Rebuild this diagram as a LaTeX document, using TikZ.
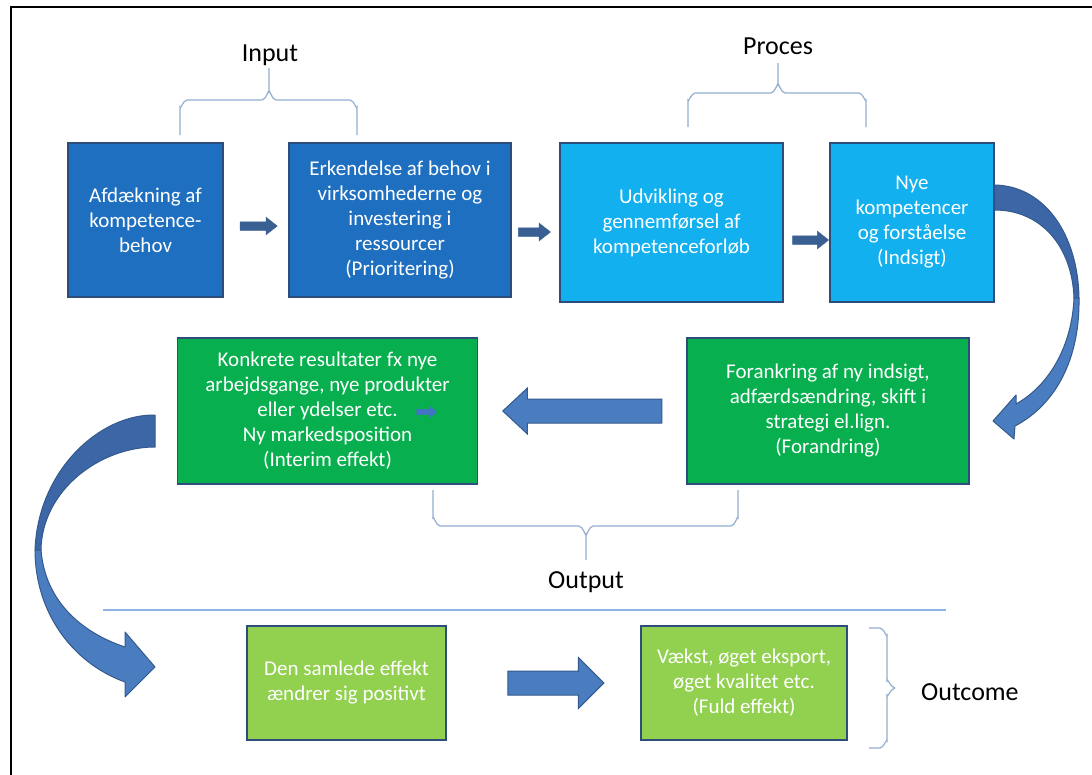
\documentclass[tikz,border=0pt]{standalone}
\usepackage{fontspec}
\setmainfont{Carlito}
\usetikzlibrary{shapes.arrows,calc}
\definecolor{dblue}{HTML}{1E6FBF}
\definecolor{lblue}{HTML}{12B0EE}
\definecolor{dgreen}{HTML}{08AF4E}
\definecolor{lgreen}{HTML}{92D050}
\definecolor{bordc}{HTML}{2E4D7B}
\definecolor{arrowc}{HTML}{3A5F92}
\definecolor{bigfill}{HTML}{4A7DC0}
\definecolor{bigdark}{HTML}{3C66A6}
\definecolor{bigline}{HTML}{34598C}
\definecolor{bracec}{HTML}{93AFCF}
\definecolor{sepc}{HTML}{8DB3E2}
\definecolor{tinyc}{HTML}{4472C4}
\begin{document}
\begin{tikzpicture}[x=1pt,y=-1pt,
  box/.style={draw=bordc,line width=1.5pt,inner sep=2pt,align=center,text=white,
    font=\fontsize{21}{25}\selectfont},
  lbl/.style={inner sep=0pt,text=black,font=\fontsize{26}{30}\selectfont},
  smallarrow/.style={single arrow,fill=arrowc,draw=arrowc,line width=0.5pt,
    inner xsep=0pt,inner ysep=4pt,single arrow head extend=4.5pt,
    single arrow tip angle=76,minimum height=#1},
  bigarrow/.style={single arrow,fill=bigfill,draw=bigline,line width=1pt,
    inner xsep=0pt,inner ysep=11.5pt,minimum height=#1},
  brace/.style={draw=bracec,line width=1.2pt},
  curved/.style={draw=bigline,line width=1pt,line join=round}
]
\useasboundingbox (0,0) rectangle (1092,774);
\fill[white] (0,0) rectangle (1092,774);
\draw[line width=2.5pt] (11,780) -- (11,7) -- (1100,7);

% boxes
\node[box,fill=dblue,minimum width=155pt,minimum height=154pt] (b1) at (145.5,220)
  {Afdækning af\\kompetence-\\behov};
\node[box,fill=dblue,minimum width=222pt,minimum height=154pt] (b2) at (400,220)
  {Erkendelse af behov i\\virksomhederne og\\investering i\\ressourcer\\(Prioritering)};
\node[box,fill=lblue,minimum width=223pt,minimum height=159pt] (b3) at (671.5,222.5)
  {Udvikling og\\gennemførsel af\\kompetenceforløb};
\node[box,fill=lblue,minimum width=164pt,minimum height=159pt] (b4) at (912,222.5)
  {Nye\\kompetencer\\og forståelse\\(Indsigt)};
\node[box,fill=dgreen,minimum width=300pt,minimum height=146pt] (b5) at (327.5,411)
  {Konkrete resultater fx nye\\arbejdsgange, nye produkter\\eller ydelser etc.\\Ny markedsposition\\(Interim effekt)};
\node[box,fill=dgreen,minimum width=282pt,minimum height=146pt] (b6) at (828,411)
  {Forankring af ny indsigt,\\adfærdsændring, skift i\\strategi el.lign.\\(Forandring)};
\node[box,fill=lgreen,minimum width=199pt,minimum height=114pt] (b7) at (346.5,683)
  {Den samlede effekt\\ændrer sig positivt};
\node[box,fill=lgreen,minimum width=206pt,minimum height=114pt] (b8) at (744,683)
  {Vækst, øget eksport,\\øget kvalitet etc.\\(Fuld effekt)};

% tiny arrow inside b5
\node[single arrow,fill=tinyc,draw=tinyc,line width=0.3pt,inner xsep=0pt,inner ysep=2.5pt,
  single arrow head extend=3pt,single arrow tip angle=80,minimum height=20pt] (tiny) at (425,412) {};

% small connectors
\path ([yshift=-6pt]b1.east) -- ([yshift=-6pt]b2.west) node[midway,smallarrow=37pt] (a12) {};
\path ([yshift=-12pt]b2.east) -- ([yshift=-9.5pt]b3.west) node[pos=0.42,smallarrow=32pt] (a23) {};
\path ([yshift=-17.5pt]b3.east) -- ([yshift=-17.5pt]b4.west) node[pos=0.53,smallarrow=36pt] (a34) {};

% big straight arrows
\path (b6.west) -- (b5.east) node[pos=0.469,bigarrow=159pt,shape border rotate=180,
  single arrow head extend=11pt,single arrow tip angle=86] (a65) {};
\path (b7.east) -- (b8.west) node[pos=0.533,bigarrow=96pt,
  single arrow head extend=13.5pt,single arrow tip angle=90] (a78) {};

% curved arrow b4 -> b6
\fill[bigdark,curved] (b4.east |- 0,185) .. controls (1045,186) and (1078,235) .. (1079,298)
  -- (1074,298) .. controls (1072,245) and (1040,210) .. (b4.east |- 0,210) -- cycle;
\fill[bigfill,curved] (1079,298) .. controls (1080,360) and (1055,405) .. (1015,426)
  -- (1014,439) -- (993,421) -- (1016,395) -- (1016,404)
  .. controls (1050,385) and (1072,345) .. (1074,298) -- cycle;

% curved arrow b5 -> b7
\fill[bigdark,curved] (155,415) .. controls (100,414) and (38,470) .. (35,550)
  -- (41,550) .. controls (42,490) and (100,447) .. (155,447) -- cycle;
\fill[bigfill,curved] (35,550) .. controls (35,610) and (70,662) .. (125,682)
  -- (125,697) -- (155,667) -- (125,632) -- (125,647)
  .. controls (80,632) and (45,600) .. (41,550) -- cycle;

% braces
\draw[brace] (180,135) -- (180,107) to[out=-90,in=180] (187,100) -- (262,100)
  to[out=0,in=90] (269,92) -- (269,68);
\draw[brace] (269,92) to[out=90,in=180] (276,100) -- (350,100)
  to[out=0,in=-90] (357,107) -- (357,135);
\node[lbl] (input) at (270,55) {Input};

\draw[brace] (688,127) -- (688,100) to[out=-90,in=180] (695,93) -- (771,93)
  to[out=0,in=90] (778,85) -- (778,63);
\draw[brace] (778,85) to[out=90,in=180] (785,93) -- (859,93)
  to[out=0,in=-90] (866,100) -- (866,127);
\node[lbl] (proces) at (778,46) {Proces};

\draw[brace] (433,490) -- (433,518) to[out=90,in=180] (440,526) -- (579,526)
  to[out=0,in=-90] (586,534) -- (586,560);
\draw[brace] (586,534) to[out=-90,in=180] (593,526) -- (731,526)
  to[out=0,in=90] (738,518) -- (738,490);
\node[lbl] (output) at (586,582) {Output};

\draw[brace] (869,628) -- (880,628) to[out=0,in=-90] (887,635) -- (887,681)
  to[out=90,in=180] (895,688);
\draw[brace] (895,688) to[out=180,in=-90] (887,695) -- (887,741)
  to[out=90,in=0] (880,748) -- (869,748);
\node[lbl,anchor=west] (outcome) at (921,692) {Outcome};

% separator
\draw[draw=sepc,line width=1.3pt] (103,610) -- (946,610);
\end{tikzpicture}
\end{document}
